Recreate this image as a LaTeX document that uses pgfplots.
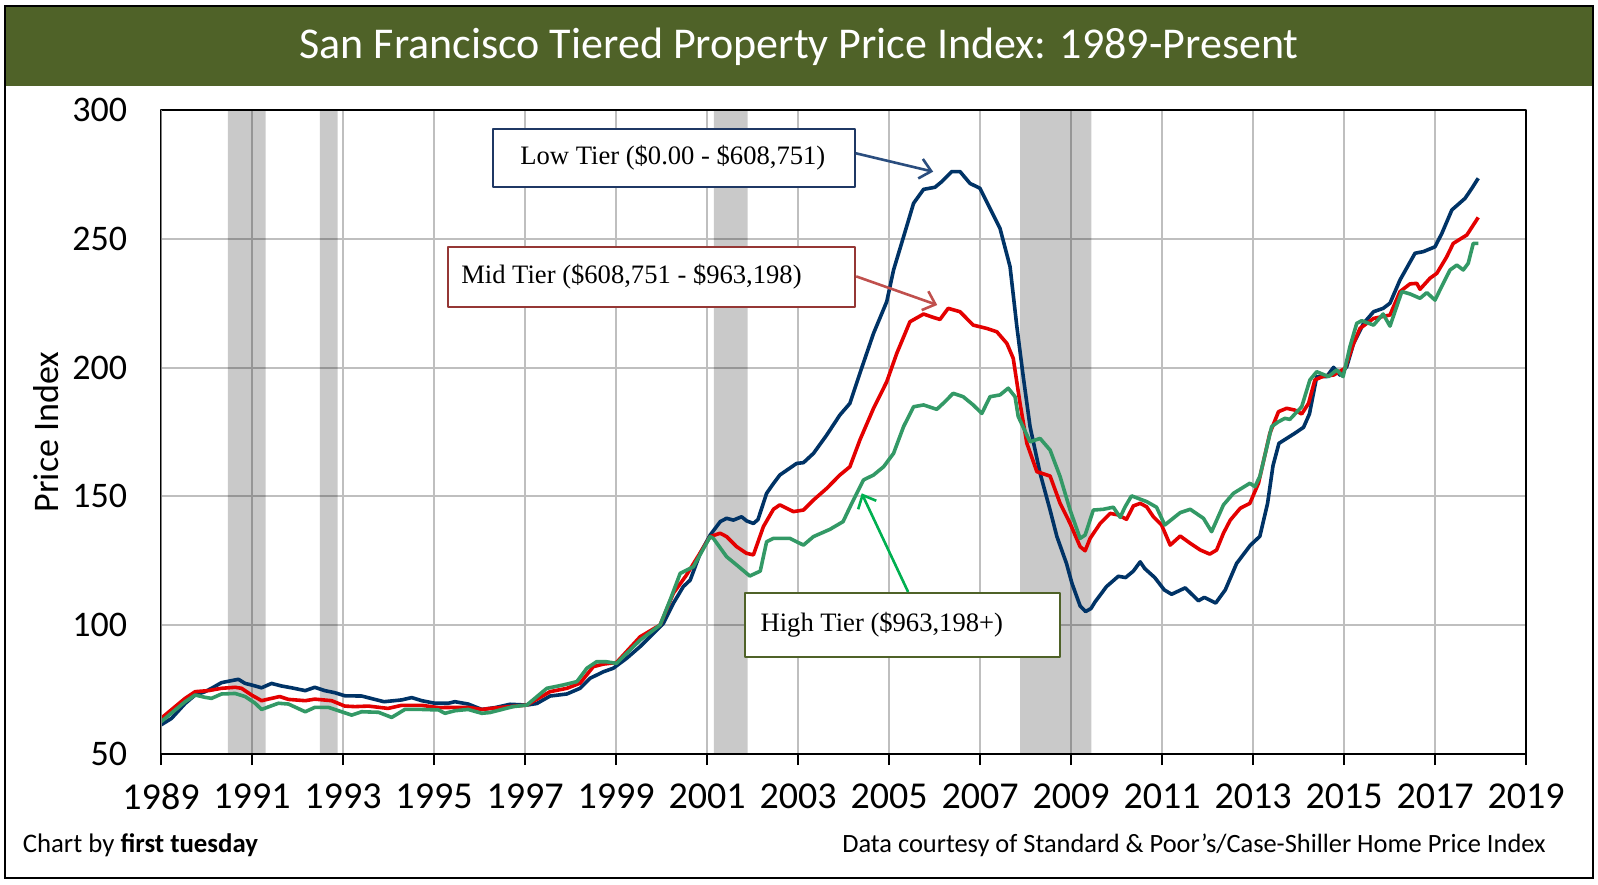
\documentclass[border=0pt]{standalone}
\usepackage{fontspec}
\setmainfont{Carlito}
\newfontfamily\tnr{Liberation Serif}
\usepackage{pgfplots}
\pgfplotsset{compat=1.18}
\usetikzlibrary{arrows.meta}

\definecolor{lowC}{HTML}{003366}
\definecolor{midC}{HTML}{E40000}
\definecolor{highC}{HTML}{339966}
\definecolor{gridC}{HTML}{BFBFBF}
\definecolor{titleC}{HTML}{4F6228}
\definecolor{lowBox}{HTML}{1F3864}
\definecolor{midBox}{HTML}{953735}
\definecolor{highBox}{HTML}{4F6228}
\definecolor{lowArr}{HTML}{2A4D7E}
\definecolor{midArr}{HTML}{C0504D}
\definecolor{highArr}{HTML}{00B050}

\begin{document}
\begin{tikzpicture}
\path[use as bounding box] (0pt,0pt) rectangle (799pt,442pt);
\fill[white] (0pt,0pt) rectangle (799pt,442pt);
\fill[titleC] (2.5pt,399pt) rectangle (796.5pt,438.5pt);
\node[white, font=\fontsize{22}{26}\selectfont] at (399.5pt,418.5pt) {San Francisco Tiered Property Price Index: 1989-Present};
\draw[black, line width=1.2pt] (2.5pt,3pt) rectangle (796.5pt,439pt);
\node[anchor=west, inner sep=0pt, font=\fontsize{13.4}{16}\selectfont] at (11.2pt,19.5pt) {Chart by \textbf{first tuesday}};
\node[anchor=east, inner sep=0pt, font=\fontsize{13.2}{16}\selectfont] at (773pt,19.5pt) {Data courtesy of Standard \& Poor's/Case-Shiller Home Price Index};

\begin{axis}[
  at={(80.5pt,65pt)}, anchor=south west,
  scale only axis, width=682.5pt, height=322pt,
  xmin=1989, xmax=2019, ymin=50, ymax=300,
  xtick={1989,1991,...,2019}, ytick={50,100,...,300},
  grid=major, major grid style={color=gridC, line width=1pt},
  axis line style={black, line width=1pt},
  xtick pos=bottom, ytick pos=left,
  xtick align=outside, major tick length=5.5pt,
  xtick style={black, line width=1pt},
  ytick style={draw=none},
  /pgf/number format/assume math mode=true,
  xticklabel style={font=\fontsize{19}{22}\selectfont, /pgf/number format/1000 sep={}, anchor=north, inner sep=0pt, yshift=-9pt},
  yticklabel style={font=\fontsize{18}{21}\selectfont, anchor=east, inner sep=0pt, xshift=-16.8pt},
  ylabel={Price Index},
  ylabel style={font=\fontsize{18}{21}\selectfont, at={(axis description cs:-0.0842,0.5)}, anchor=center},
  line join=round,
]
% recession bands
\addplot[draw=none, fill=black, fill opacity=0.21] coordinates {(1990.47,50) (1990.47,300) (1991.30,300) (1991.30,50)} \closedcycle;
\addplot[draw=none, fill=black, fill opacity=0.21] coordinates {(1992.49,50) (1992.49,300) (1992.88,300) (1992.88,50)} \closedcycle;
\addplot[draw=none, fill=black, fill opacity=0.21] coordinates {(2001.15,50) (2001.15,300) (2001.89,300) (2001.89,50)} \closedcycle;
\addplot[draw=none, fill=black, fill opacity=0.21] coordinates {(2007.88,50) (2007.88,300) (2009.45,300) (2009.45,50)} \closedcycle;

% Low tier
\addplot[lowC, line width=1.8pt] table[x=x,y=y] {
x y
1989.00 61.3
1989.23 63.8
1989.53 69.6
1989.75 72.9
1989.97 74.2
1990.11 75.5
1990.33 77.7
1990.50 78.3
1990.70 79.0
1990.85 77.4
1990.99 76.8
1991.21 75.7
1991.43 77.4
1991.65 76.4
1991.87 75.7
1992.17 74.6
1992.38 75.9
1992.60 74.6
1992.82 73.8
1993.04 72.6
1993.41 72.5
1993.70 71.2
1993.90 70.3
1994.29 71.0
1994.51 71.9
1994.73 70.7
1995.02 69.7
1995.31 69.7
1995.46 70.3
1995.75 69.4
1996.05 67.3
1996.34 68.0
1996.67 69.3
1997.04 69.0
1997.26 69.6
1997.55 72.5
1997.92 73.3
1998.21 75.5
1998.43 79.4
1998.72 81.9
1998.94 83.3
1999.23 87.1
1999.53 91.7
1999.82 96.8
2000.04 100.7
2000.26 108.5
2000.48 115.0
2000.63 117.5
2000.85 127.9
2001.07 135.0
2001.29 140.2
2001.43 141.5
2001.58 140.8
2001.76 142.1
2001.87 140.5
2002.02 139.5
2002.12 141.0
2002.31 151.2
2002.46 155.0
2002.60 158.3
2002.97 162.8
2003.12 163.1
2003.34 166.7
2003.63 173.8
2003.92 181.6
2004.14 186.1
2004.36 197.8
2004.66 213.3
2004.95 225.6
2005.10 237.9
2005.32 250.8
2005.54 263.8
2005.76 269.2
2006.01 270.0
2006.16 272.2
2006.38 276.1
2006.56 276.1
2006.78 271.5
2007.00 269.6
2007.22 261.8
2007.44 254.0
2007.66 239.2
2007.81 215.9
2007.95 196.5
2008.10 177.1
2008.32 159.0
2008.54 144.7
2008.69 134.4
2008.90 124.0
2009.02 116.3
2009.20 107.5
2009.32 105.3
2009.44 106.5
2009.53 109.1
2009.78 115.0
2010.04 119.0
2010.20 118.5
2010.37 121.0
2010.52 124.6
2010.62 122.0
2010.84 118.5
2011.05 113.7
2011.21 112.0
2011.51 114.5
2011.80 109.5
2011.93 110.8
2012.18 108.6
2012.39 113.7
2012.64 124.0
2012.94 131.0
2013.15 134.5
2013.32 147.3
2013.44 162.0
2013.57 170.6
2013.90 174.3
2014.11 176.8
2014.24 182.0
2014.40 196.5
2014.62 196.5
2014.77 200.1
2014.91 197.1
2015.06 200.4
2015.21 209.4
2015.43 217.2
2015.65 221.7
2015.86 223.0
2016.01 225.0
2016.23 234.0
2016.56 244.4
2016.74 245.0
2017.00 246.9
2017.15 252.1
2017.37 261.2
2017.66 265.7
2017.81 269.6
2017.95 273.5
};

% Mid tier
\addplot[midC, line width=1.8pt] table[x=x,y=y] {
x y
1989.00 63.8
1989.53 71.6
1989.75 74.2
1990.04 74.6
1990.33 75.5
1990.63 75.9
1990.77 75.5
1990.99 72.9
1991.21 70.7
1991.43 71.6
1991.61 72.3
1991.80 71.2
1992.17 70.7
1992.38 71.3
1992.75 70.7
1993.04 68.6
1993.26 68.4
1993.56 68.6
1993.99 67.7
1994.29 68.9
1994.73 68.9
1995.10 68.0
1995.46 68.1
1995.75 68.1
1996.05 67.3
1996.30 67.8
1996.60 68.3
1997.04 69.0
1997.55 74.2
1997.92 75.5
1998.21 77.5
1998.50 83.9
1998.72 84.9
1999.01 85.5
1999.53 95.5
1999.97 100.1
2000.26 112.4
2000.55 119.5
2001.07 134.4
2001.29 135.7
2001.43 134.4
2001.65 130.5
2001.87 127.9
2002.02 127.3
2002.24 138.3
2002.46 145.0
2002.60 146.7
2002.90 144.1
2003.12 144.7
2003.34 148.6
2003.63 153.1
2003.92 158.3
2004.14 161.5
2004.36 171.9
2004.66 184.2
2004.95 194.5
2005.17 205.5
2005.46 217.8
2005.76 220.8
2005.97 219.5
2006.12 218.7
2006.30 223.0
2006.56 221.7
2006.85 216.5
2007.15 215.2
2007.37 213.9
2007.59 209.4
2007.73 203.6
2007.88 186.1
2008.03 170.6
2008.25 159.6
2008.54 157.9
2008.76 147.3
2008.98 139.5
2009.20 130.5
2009.31 128.9
2009.42 133.7
2009.64 139.5
2009.86 143.4
2010.04 142.8
2010.22 141.1
2010.37 146.3
2010.52 147.3
2010.66 146.0
2010.81 142.1
2010.99 138.9
2011.18 131.1
2011.40 134.6
2011.62 131.8
2011.84 129.2
2012.05 127.6
2012.20 129.2
2012.35 135.7
2012.50 140.8
2012.72 145.4
2012.93 147.3
2013.12 155.1
2013.37 174.5
2013.56 182.9
2013.74 184.2
2013.92 183.5
2014.07 182.0
2014.22 186.1
2014.36 195.2
2014.55 196.7
2014.77 197.1
2015.02 199.7
2015.21 209.4
2015.35 215.2
2015.65 219.1
2016.01 220.4
2016.23 229.5
2016.45 232.5
2016.60 232.7
2016.67 230.4
2016.89 234.7
2017.04 236.6
2017.26 243.1
2017.40 248.2
2017.70 251.5
2017.95 258.3
};

% High tier
\addplot[highC, line width=1.8pt] table[x=x,y=y] {
x y
1989.00 62.5
1989.53 70.3
1989.75 72.9
1989.97 72.0
1990.11 71.6
1990.33 73.3
1990.63 73.5
1990.85 72.3
1991.07 69.7
1991.21 67.3
1991.58 69.7
1991.80 69.4
1992.17 66.4
1992.38 68.1
1992.68 68.1
1992.97 66.4
1993.19 65.1
1993.41 66.4
1993.78 66.2
1994.07 64.2
1994.36 67.3
1994.73 67.3
1995.10 67.1
1995.24 65.8
1995.46 66.8
1995.75 67.3
1996.05 65.8
1996.23 66.1
1996.74 68.4
1997.04 69.0
1997.48 75.5
1997.84 76.8
1998.14 78.1
1998.36 83.3
1998.57 85.8
1998.79 85.8
1999.01 85.2
1999.53 94.2
1999.97 100.1
2000.19 109.8
2000.41 120.1
2000.70 122.7
2001.07 134.4
2001.14 133.7
2001.43 126.6
2001.65 123.4
2001.94 119.1
2002.17 121.0
2002.31 132.4
2002.46 133.7
2002.82 133.7
2003.12 131.1
2003.34 134.4
2003.70 137.2
2003.99 140.2
2004.20 148.0
2004.44 156.4
2004.66 158.3
2004.88 161.5
2005.10 166.7
2005.32 177.1
2005.54 184.8
2005.76 185.5
2006.05 183.8
2006.19 186.1
2006.41 190.0
2006.63 188.7
2006.85 185.5
2007.04 182.2
2007.22 188.7
2007.44 189.4
2007.62 192.0
2007.77 188.7
2007.84 181.0
2008.10 171.2
2008.32 172.5
2008.54 168.0
2008.76 157.7
2008.98 144.7
2009.20 133.7
2009.31 135.0
2009.49 144.7
2009.71 145.0
2009.93 145.8
2010.08 141.9
2010.19 146.0
2010.33 150.2
2010.66 148.0
2010.88 145.8
2011.06 138.9
2011.40 143.7
2011.62 145.0
2011.91 141.5
2012.09 136.3
2012.35 146.7
2012.57 151.2
2012.93 155.1
2013.04 153.8
2013.15 157.7
2013.41 177.1
2013.56 179.0
2013.70 180.3
2013.81 179.9
2014.07 184.8
2014.25 195.2
2014.40 198.4
2014.66 196.5
2014.84 199.1
2014.98 196.5
2015.13 208.1
2015.28 217.2
2015.39 218.2
2015.65 216.5
2015.86 220.8
2016.01 216.1
2016.27 229.5
2016.45 228.6
2016.67 226.9
2016.82 229.1
2017.00 226.2
2017.18 232.7
2017.33 237.9
2017.48 239.8
2017.62 237.9
2017.73 240.5
2017.84 248.2
2017.95 248.2
};

% left axis line in grey, bottom axis heavier
\draw[gray, line width=0.9pt] (rel axis cs:0,0) -- (rel axis cs:0,1);
\draw[black, line width=1.4pt] (rel axis cs:0,0) -- (rel axis cs:1,0);

% annotations
\draw[lowBox, line width=1pt, fill=white] (axis cs:1996.30,292.6) rectangle (axis cs:2004.25,270.1);
\node[anchor=west, inner sep=0pt, font=\tnr\fontsize{13.3}{16}\selectfont] at (axis cs:1996.89,281.4) {Low Tier (\$0.00 - \$608,751)};
\draw[lowArr, line width=1.3pt, -{Straight Barb[length=5.5pt,width=10pt]}] (axis cs:2004.27,283.2) -- (axis cs:2005.97,276.05);

\draw[midBox, line width=1pt, fill=white] (axis cs:1995.31,246.8) rectangle (axis cs:2004.25,223.5);
\node[anchor=west, inner sep=0pt, font=\tnr\fontsize{13.3}{16}\selectfont] at (axis cs:1995.59,235.2) {Mid Tier (\$608,751 - \$963,198)};
\draw[midArr, line width=1.3pt, -{Straight Barb[length=5.5pt,width=10pt]}] (axis cs:2004.28,235.4) -- (axis cs:2006.06,224.3);

\draw[highBox, line width=1pt, fill=white] (axis cs:2001.84,112.5) rectangle (axis cs:2008.76,87.7);
\node[anchor=west, inner sep=0pt, font=\tnr\fontsize{13.3}{16}\selectfont] at (axis cs:2002.17,100.1) {High Tier (\$963,198+)};
\draw[highArr, line width=1.3pt, -{Straight Barb[length=5.5pt,width=10pt]}] (axis cs:2005.42,112.9) -- (axis cs:2004.40,151.2);
\end{axis}
\end{tikzpicture}
\end{document}
